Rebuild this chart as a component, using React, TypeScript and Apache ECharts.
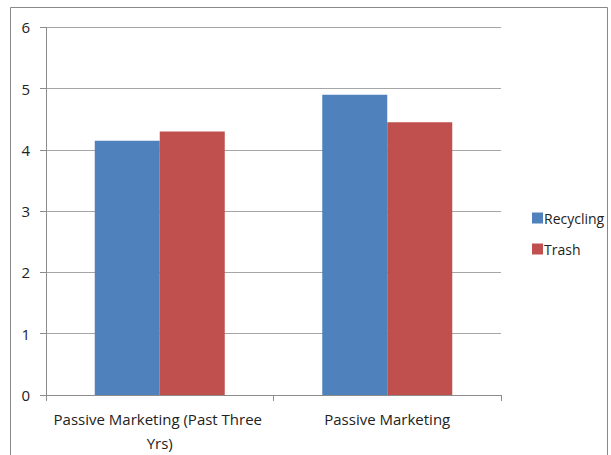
import React, { useEffect, useRef } from "react";
import * as echarts from "echarts";

const categories = ["Passive Marketing (Past Three Yrs)", "Passive Marketing"];
const recycling = [4.15, 4.9];
const trash = [4.3, 4.45];
const seriesNames = ["Recycling", "Trash"];

export default function App() {
  const ref = useRef<HTMLDivElement>(null);
  useEffect(() => {
    if (!ref.current) return;
    const chart = echarts.init(ref.current, null, { renderer: "svg" });
    const font = "'Open Sans', 'Noto Sans', sans-serif";
    chart.setOption({
      animation: false,
      backgroundColor: "#fff",
      textStyle: { fontFamily: font },
      graphic: [
        {
          type: "rect",
          shape: { x: 10.5, y: 7.5, width: 597, height: 470 },
          style: { fill: "none", stroke: "#888", lineWidth: 1 },
          silent: true,
          z: -1,
        },
      ],
      grid: { left: 46, top: 27.3, right: 110, bottom: 60, containLabel: false },
      legend: {
        orient: "vertical",
        left: 527,
        top: 206,
        itemWidth: 11,
        itemHeight: 11,
        itemGap: 17,
        icon: "rect",
        textStyle: { fontSize: 14, color: "#222", fontFamily: font, padding: [0, 0, 0, -4] },
        data: seriesNames,
      },
      xAxis: {
        type: "category",
        data: categories,
        axisLine: { lineStyle: { color: "#8c8c8c" } },
        axisTick: { show: true, length: 6, lineStyle: { color: "#8c8c8c" } },
        axisLabel: {
          interval: 0,
          fontSize: 15,
          color: "#222",
          margin: 12,
          width: 214,
          overflow: "break",
          lineHeight: 24,
          fontFamily: font,
        },
      },
      yAxis: {
        type: "value",
        min: 0,
        max: 6,
        interval: 1,
        axisLine: { show: true, lineStyle: { color: "#8c8c8c" } },
        axisTick: { show: true, length: 6, lineStyle: { color: "#8c8c8c" } },
        splitLine: { lineStyle: { color: "#a6a6a6" } },
        axisLabel: { fontSize: 15, color: "#222", margin: 16, fontFamily: font },
      },
      series: [
        {
          name: seriesNames[0],
          type: "bar",
          data: recycling,
          barWidth: 65,
          barGap: "0%",
          itemStyle: { color: "#4F81BD" },
        },
        {
          name: seriesNames[1],
          type: "bar",
          data: trash,
          barWidth: 65,
          barGap: "0%",
          itemStyle: { color: "#C0504D" },
        },
      ],
    });
    return () => chart.dispose();
  }, []);
  return (
    <div
      ref={ref}
      style={{ position: "fixed", left: 0, top: 0, width: 611, height: 455 }}
    />
  );
}
